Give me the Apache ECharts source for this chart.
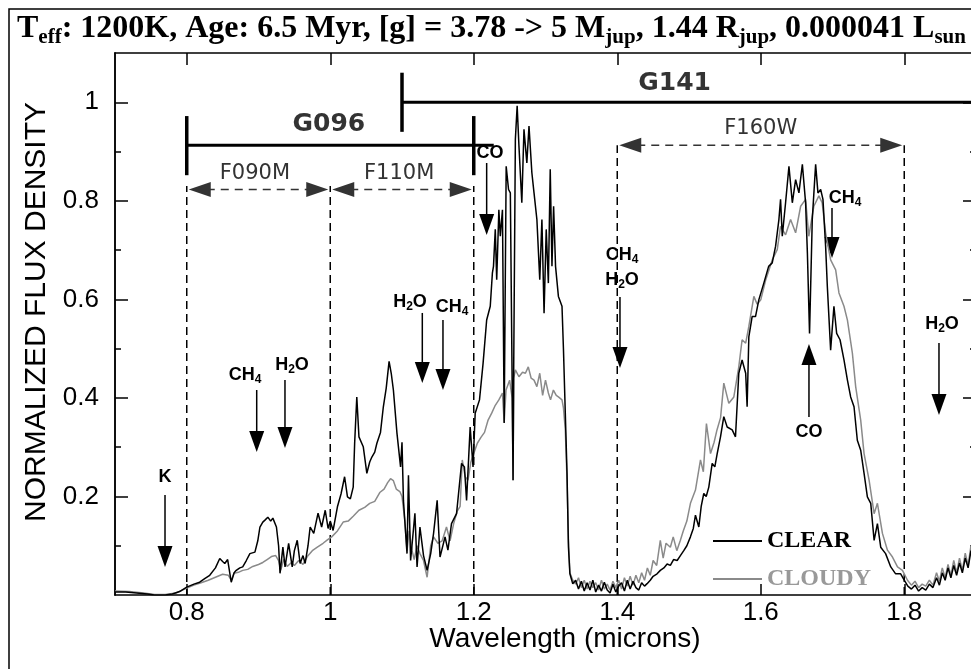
<!DOCTYPE html>
<html>
<head>
<meta charset="utf-8">
<title>Spectrum</title>
<script src="https://cdn.jsdelivr.net/npm/echarts@6/dist/echarts.min.js"></script>
<style>
html,body{margin:0;padding:0;background:#fff;overflow:hidden;}
#main{width:980px;height:669px;}
</style>
</head>
<body>
<div id="main"></div>
<script>
// CLEAR model spectrum (black)
var clearWave = [0.700,0.715,0.730,0.745,0.755,0.770,0.780,0.790,0.800,0.810,0.818,0.825,0.832,0.840,0.846,0.850,0.853,0.857,0.862,0.866,0.869,0.874,0.878,0.883,0.888,0.895,0.899,0.902,0.906,0.909,0.913,0.917,0.920,0.925,0.928,0.930,0.934,0.937,0.942,0.947,0.950,0.954,0.958,0.962,0.965,0.969,0.972,0.977,0.983,0.988,0.993,0.997,1.000,1.004,1.010,1.015,1.020,1.024,1.028,1.032,1.034,1.037,1.040,1.046,1.051,1.055,1.058,1.062,1.065,1.070,1.074,1.078,1.082,1.085,1.088,1.093,1.098,1.100,1.102,1.107,1.109,1.112,1.118,1.121,1.125,1.130,1.135,1.140,1.144,1.149,1.153,1.160,1.164,1.169,1.176,1.183,1.187,1.190,1.195,1.199,1.202,1.208,1.213,1.218,1.223,1.226,1.2275,1.230,1.232,1.235,1.237,1.240,1.2424,1.2452,1.2485,1.251,1.2535,1.2548,1.2557,1.258,1.2605,1.263,1.267,1.270,1.274,1.277,1.281,1.284,1.288,1.292,1.295,1.298,1.301,1.304,1.3066,1.309,1.3113,1.314,1.318,1.323,1.325,1.3276,1.330,1.332,1.334,1.338,1.342,1.346,1.350,1.354,1.358,1.362,1.366,1.370,1.374,1.378,1.382,1.386,1.390,1.394,1.398,1.402,1.406,1.410,1.414,1.418,1.422,1.426,1.430,1.434,1.438,1.4416,1.446,1.450,1.4555,1.460,1.465,1.4695,1.474,1.4785,1.4835,1.488,1.4927,1.497,1.502,1.506,1.509,1.5137,1.517,1.5206,1.524,1.5276,1.5323,1.536,1.5393,1.5439,1.5485,1.5532,1.5602,1.5648,1.5694,1.574,1.579,1.581,1.5834,1.588,1.5927,1.5973,1.6043,1.611,1.616,1.6207,1.6253,1.6276,1.630,1.6346,1.6393,1.644,1.6486,1.6532,1.658,1.6625,1.665,1.668,1.6718,1.6765,1.6797,1.6835,1.6867,1.6904,1.6928,1.6974,1.702,1.7058,1.7105,1.716,1.7208,1.7253,1.730,1.7346,1.7393,1.744,1.7486,1.7533,1.758,1.7626,1.7672,1.774,1.7812,1.788,1.795,1.800,1.805,1.810,1.815,1.820,1.825,1.830,1.835,1.840,1.845,1.849,1.853,1.857,1.861,1.865,1.869,1.873,1.877,1.881,1.885,1.889,1.893,1.897,1.900];
var clearFlux = [0.006,0.006,0.004,0.002,0.000,0.000,0.002,0.007,0.016,0.022,0.026,0.033,0.040,0.055,0.074,0.068,0.064,0.072,0.026,0.045,0.050,0.055,0.057,0.070,0.084,0.087,0.110,0.138,0.148,0.152,0.158,0.150,0.156,0.138,0.100,0.044,0.097,0.057,0.105,0.057,0.090,0.111,0.064,0.080,0.064,0.100,0.138,0.125,0.166,0.138,0.172,0.135,0.150,0.131,0.179,0.205,0.240,0.199,0.195,0.219,0.308,0.402,0.321,0.301,0.247,0.270,0.280,0.290,0.308,0.330,0.382,0.420,0.474,0.450,0.416,0.328,0.260,0.310,0.192,0.084,0.243,0.070,0.166,0.057,0.138,0.080,0.050,0.084,0.125,0.192,0.077,0.118,0.091,0.145,0.165,0.267,0.260,0.192,0.341,0.260,0.369,0.396,0.470,0.558,0.586,0.654,0.667,0.742,0.640,0.782,0.728,0.782,0.349,0.870,0.823,0.816,0.436,0.233,0.463,0.925,0.993,0.911,0.796,0.945,0.877,0.952,0.857,0.816,0.762,0.640,0.762,0.572,0.742,0.633,0.864,0.667,0.789,0.667,0.606,0.586,0.500,0.369,0.247,0.097,0.043,0.023,0.030,0.012,0.028,0.008,0.025,0.010,0.030,0.006,0.020,0.008,0.026,0.010,0.004,0.022,0.006,0.018,0.025,0.008,0.030,0.012,0.028,0.015,0.010,0.025,0.018,0.023,0.030,0.038,0.043,0.050,0.055,0.063,0.060,0.072,0.070,0.080,0.090,0.100,0.118,0.135,0.162,0.138,0.180,0.206,0.200,0.219,0.267,0.260,0.287,0.321,0.362,0.341,0.335,0.321,0.450,0.477,0.450,0.382,0.524,0.565,0.565,0.599,0.633,0.667,0.674,0.708,0.762,0.803,0.728,0.796,0.870,0.796,0.843,0.816,0.874,0.796,0.694,0.531,0.762,0.874,0.816,0.823,0.803,0.708,0.626,0.497,0.586,0.531,0.518,0.477,0.436,0.402,0.382,0.314,0.294,0.247,0.199,0.186,0.111,0.145,0.097,0.084,0.057,0.043,0.043,0.030,0.018,0.012,0.020,0.008,0.015,0.010,0.022,0.015,0.035,0.020,0.045,0.030,0.055,0.035,0.060,0.040,0.065,0.045,0.075,0.055,0.090,0.060,0.080];

// CLOUDY model spectrum (grey)
var cloudyWave = [0.700,0.720,0.740,0.755,0.770,0.785,0.800,0.810,0.820,0.830,0.840,0.850,0.858,0.862,0.866,0.872,0.878,0.885,0.892,0.900,0.906,0.912,0.918,0.924,0.928,0.931,0.935,0.940,0.946,0.950,0.956,0.962,0.968,0.975,0.982,0.990,0.996,1.002,1.010,1.018,1.025,1.032,1.040,1.048,1.055,1.062,1.069,1.075,1.080,1.084,1.088,1.092,1.097,1.100,1.104,1.107,1.110,1.114,1.117,1.121,1.125,1.130,1.135,1.140,1.144,1.150,1.156,1.162,1.167,1.172,1.177,1.181,1.184,1.188,1.192,1.196,1.200,1.205,1.210,1.215,1.220,1.225,1.230,1.235,1.240,1.2424,1.245,1.250,1.2535,1.2548,1.2557,1.258,1.263,1.268,1.272,1.276,1.280,1.284,1.288,1.292,1.296,1.300,1.304,1.307,1.311,1.315,1.318,1.323,1.325,1.3276,1.330,1.332,1.334,1.338,1.342,1.346,1.350,1.354,1.358,1.362,1.366,1.370,1.374,1.378,1.382,1.386,1.390,1.394,1.398,1.402,1.406,1.410,1.414,1.418,1.422,1.426,1.430,1.434,1.438,1.442,1.446,1.450,1.455,1.460,1.464,1.468,1.474,1.478,1.483,1.488,1.492,1.497,1.502,1.509,1.516,1.520,1.5243,1.530,1.535,1.539,1.544,1.5485,1.5555,1.5625,1.5694,1.574,1.579,1.5834,1.5904,1.595,1.600,1.607,1.616,1.623,1.6276,1.6346,1.6416,1.6486,1.6556,1.6625,1.667,1.674,1.681,1.6856,1.6904,1.6974,1.7044,1.709,1.716,1.7208,1.7277,1.7323,1.7393,1.744,1.751,1.758,1.7626,1.7696,1.7766,1.7836,1.7906,1.7975,1.8045,1.810,1.815,1.820,1.825,1.830,1.835,1.840,1.845,1.849,1.853,1.857,1.861,1.865,1.869,1.873,1.877,1.881,1.885,1.889,1.893,1.897,1.900];
var cloudyFlux = [0.008,0.007,0.004,0.001,0.001,0.004,0.014,0.020,0.025,0.030,0.036,0.042,0.040,0.030,0.044,0.046,0.050,0.052,0.058,0.062,0.066,0.072,0.078,0.080,0.070,0.050,0.072,0.058,0.066,0.060,0.070,0.062,0.078,0.090,0.097,0.105,0.112,0.118,0.130,0.148,0.150,0.160,0.172,0.178,0.186,0.190,0.208,0.215,0.228,0.236,0.232,0.215,0.210,0.200,0.150,0.090,0.130,0.090,0.072,0.100,0.084,0.070,0.036,0.100,0.118,0.105,0.110,0.138,0.110,0.145,0.170,0.180,0.274,0.240,0.233,0.270,0.287,0.308,0.320,0.330,0.355,0.369,0.385,0.396,0.410,0.350,0.416,0.436,0.400,0.233,0.440,0.457,0.443,0.452,0.450,0.463,0.440,0.436,0.423,0.450,0.405,0.436,0.410,0.396,0.416,0.405,0.402,0.396,0.380,0.335,0.233,0.111,0.045,0.030,0.022,0.035,0.015,0.030,0.012,0.028,0.015,0.025,0.010,0.030,0.012,0.022,0.010,0.028,0.015,0.030,0.012,0.035,0.018,0.038,0.020,0.040,0.025,0.045,0.030,0.055,0.040,0.070,0.060,0.111,0.075,0.105,0.097,0.118,0.090,0.111,0.130,0.150,0.186,0.213,0.274,0.250,0.348,0.287,0.310,0.335,0.360,0.430,0.389,0.402,0.463,0.518,0.511,0.545,0.606,0.590,0.599,0.640,0.680,0.701,0.748,0.731,0.762,0.735,0.789,0.803,0.728,0.789,0.810,0.796,0.735,0.680,0.660,0.613,0.586,0.558,0.491,0.423,0.355,0.287,0.233,0.165,0.186,0.125,0.091,0.077,0.057,0.050,0.030,0.020,0.028,0.015,0.022,0.018,0.030,0.020,0.045,0.028,0.055,0.035,0.062,0.040,0.070,0.045,0.075,0.050,0.085,0.060,0.100,0.065,0.085];

var xTicks = [0.8, 1.0, 1.2, 1.4, 1.6, 1.8];
var yMajor = [0.2, 0.4, 0.6, 0.8, 1.0];
var yMinor = [0.1, 0.3, 0.5, 0.7, 0.9];

// filter / grating annotations (data units)
var filterEdges = [[0.8, 0.83], [1.0, 0.83], [1.2, 0.83], [1.4, 0.913], [1.8, 0.913]];
var filters = [
  {name: 'F090M', x0: 0.8, x1: 1.0, y: 0.823, lx: 0.895, ly: 0.855},
  {name: 'F110M', x0: 1.0, x1: 1.2, y: 0.823, lx: 1.096, ly: 0.855},
  {name: 'F160W', x0: 1.4, x1: 1.8, y: 0.913, lx: 1.6, ly: 0.946}
];
var gratings = [
  {name: 'G096', x0: 0.8, x1: 1.2, y: 0.913, bars: [0.8, 1.2], top: 0.972, bot: 0.852, lx: 0.998, ly: 0.955},
  {name: 'G141', x0: 1.1, x1: 1.9, y: 1.0, bars: [1.1], top: 1.06, bot: 0.94, lx: 1.48, ly: 1.039}
];
// molecule labels: text, text pos, arrow x, arrow start, arrow tip
var features = [
  {t: '{m|K}', tx: 0.7697, ty: 0.2395, ax: 0.7697, y0: 0.203, y1: 0.057},
  {t: '{m|CH}{s|4}', tx: 0.8812, ty: 0.4465, ax: 0.8975, y0: 0.416, y1: 0.290},
  {t: '{m|H}{s|2}{m|O}', tx: 0.9467, ty: 0.4668, ax: 0.9369, y0: 0.4364, y1: 0.2984},
  {t: '{m|H}{s|2}{m|O}', tx: 1.1111, ty: 0.5947, ax: 1.1283, y0: 0.5724, y1: 0.4303},
  {t: '{m|CH}{s|4}', tx: 1.1697, ty: 0.5845, ax: 1.1571, y0: 0.5582, y1: 0.4161},
  {t: '{m|CO}', tx: 1.2226, ty: 0.897, ax: 1.218, y0: 0.8768, y1: 0.7307},
  {t: '{m|CH}{s|4}', tx: 1.4066, ty: 0.690, ax: null},
  {t: '{m|H}{s|2}{m|O}', tx: 1.4066, ty: 0.639, ax: 1.4038, y0: 0.6048, y1: 0.4607},
  {t: '{m|CH}{s|4}', tx: 1.7174, ty: 0.8058, ax: 1.6993, y0: 0.7855, y1: 0.684},
  {t: '{m|CO}', tx: 1.6672, ty: 0.3308, ax: 1.6672, y0: 0.3613, y1: 0.5094},
  {t: '{m|H}{s|2}{m|O}', tx: 1.8526, ty: 0.55, ax: 1.8484, y0: 0.5115, y1: 0.3653}
];

function pairs(w, f) {
  var out = [];
  for (var i = 0; i < w.length; i++) out.push([w[i], f[i]]);
  return out;
}

var sans = 'Liberation Sans';
var axisBase = {
  type: 'value', splitLine: {show: false},
  axisLine: {show: true, onZero: false, lineStyle: {color: '#000', width: 1.5}}
};
function axis(extra) { return Object.assign({}, axisBase, extra); }

var chart = echarts.init(document.getElementById('main'));
chart.setOption({
  animation: false,
  grid: {left: 115, top: 53, right: 4, bottom: 74},
  xAxis: [
    axis({min: 0.7, max: 1.9, position: 'bottom',
      axisTick: {inside: true, length: 11, customValues: xTicks, lineStyle: {color: '#000', width: 1.5}},
      axisLabel: {customValues: xTicks, color: '#000', fontFamily: sans, fontSize: 26, margin: 5}}),
    axis({min: 0.7, max: 1.9, position: 'top',
      axisTick: {inside: true, length: 12, customValues: xTicks, lineStyle: {color: '#000', width: 1.5}},
      axisLabel: {show: false}})
  ],
  yAxis: [
    axis({min: 0, max: 1.1, position: 'left',
      axisTick: {inside: true, length: 13, customValues: yMajor, lineStyle: {color: '#000', width: 1.5}},
      axisLabel: {customValues: yMajor, color: '#000', fontFamily: sans, fontSize: 26, margin: 16}}),
    axis({min: 0, max: 1.1, position: 'left',
      axisTick: {inside: true, length: 6, customValues: yMinor, lineStyle: {color: '#000', width: 1.5}},
      axisLabel: {show: false}}),
    axis({min: 0, max: 1.1, position: 'right',
      axisTick: {inside: true, length: 13, customValues: yMajor, lineStyle: {color: '#000', width: 1.5}},
      axisLabel: {show: false}}),
    axis({min: 0, max: 1.1, position: 'right',
      axisTick: {inside: true, length: 6, customValues: yMinor, lineStyle: {color: '#000', width: 1.5}},
      axisLabel: {show: false}})
  ],
  legend: {
    orient: 'vertical', left: 708, top: 524, itemWidth: 49, itemHeight: 2, itemGap: 14, icon: 'rect',
    textStyle: {fontFamily: 'Liberation Serif', fontWeight: 'bold', fontSize: 24},
    data: [{name: 'CLEAR', textStyle: {color: '#000'}}, {name: 'CLOUDY', textStyle: {color: '#999'}}]
  },
  series: [
    {name: 'CLOUDY', type: 'line', symbol: 'none', data: pairs(cloudyWave, cloudyFlux),
      lineStyle: {color: '#8a8a8a', width: 1.5}, itemStyle: {color: '#8a8a8a'}},
    {name: 'CLEAR', type: 'line', symbol: 'none', data: pairs(clearWave, clearFlux),
      lineStyle: {color: '#000', width: 1.5}, itemStyle: {color: '#000'}}
  ]
});

function px(x, y) { return chart.convertToPixel({seriesIndex: 0}, [x, y]); }

var g = [];
// outer frame
g.push({type: 'rect', silent: true, shape: {x: 9, y: 9, width: 1000, height: 700},
  style: {fill: null, stroke: '#000', lineWidth: 1.5}});
// title
g.push({type: 'text', left: 17, top: 10, silent: true,
  style: {
    text: '{m|T}{s|eff}{m|: 1200K, Age: 6.5 Myr, [g] = 3.78 -> 5 M}{s|jup}{m|, 1.44 R}{s|jup}{m|, 0.000041 L}{s|sun}',
    rich: {
      m: {fontFamily: 'Liberation Serif', fontWeight: 'bold', fontSize: 32, lineHeight: 34, fill: '#000'},
      s: {fontFamily: 'Liberation Serif', fontWeight: 'bold', fontSize: 21, lineHeight: 20, padding: [17, 0, 0, 0], fill: '#000'}
    }
  }});
// axis names
g.push({type: 'text', x: 37, y: 312, rotation: Math.PI / 2, silent: true,
  style: {text: 'NORMALIZED FLUX DENSITY', fontFamily: sans, fontSize: 30, fill: '#000', align: 'center', verticalAlign: 'middle'}});
g.push({type: 'text', x: 565, y: 639, silent: true,
  style: {text: 'Wavelength (microns)', fontFamily: sans, fontSize: 28, fill: '#000', align: 'center', verticalAlign: 'middle'}});

filterEdges.forEach(function (e) {
  var a = px(e[0], 0), b = px(e[0], e[1]);
  g.push({type: 'line', silent: true, shape: {x1: a[0], y1: a[1], x2: b[0], y2: b[1]},
    style: {stroke: '#000', lineWidth: 1.5, lineDash: [8, 5]}});
});

filters.forEach(function (f) {
  var a = px(f.x0, f.y), b = px(f.x1, f.y), l = px(f.lx, f.ly);
  var y = a[1], xa = a[0] + 2, xb = b[0] - 2;
  g.push({type: 'line', silent: true, shape: {x1: xa + 18, y1: y, x2: xb - 18, y2: y},
    style: {stroke: '#333', lineWidth: 1.5, lineDash: [8, 6]}});
  g.push({type: 'polygon', silent: true, shape: {points: [[xa, y], [xa + 22, y - 7.5], [xa + 22, y + 7.5]]}, style: {fill: '#333'}});
  g.push({type: 'polygon', silent: true, shape: {points: [[xb, y], [xb - 22, y - 7.5], [xb - 22, y + 7.5]]}, style: {fill: '#333'}});
  g.push({type: 'text', x: l[0], y: l[1], silent: true,
    style: {text: f.name, fontFamily: 'DejaVu Sans', fontSize: 21, fill: '#333', align: 'center', verticalAlign: 'middle'}});
});

gratings.forEach(function (r) {
  var a = px(r.x0, r.y), b = px(r.x1, r.y), l = px(r.lx, r.ly);
  g.push({type: 'line', silent: true, shape: {x1: a[0], y1: a[1], x2: b[0] + 20, y2: b[1]},
    style: {stroke: '#000', lineWidth: 3}});
  r.bars.forEach(function (bx) {
    var t = px(bx, r.top), u = px(bx, r.bot);
    g.push({type: 'line', silent: true, shape: {x1: t[0], y1: t[1], x2: u[0], y2: u[1]},
      style: {stroke: '#000', lineWidth: 3.5}});
  });
  g.push({type: 'text', x: l[0], y: l[1], silent: true,
    style: {text: r.name, fontFamily: 'DejaVu Sans', fontWeight: 'bold', fontSize: 25, fill: '#333', align: 'center', verticalAlign: 'middle'}});
});

features.forEach(function (f) {
  var p = px(f.tx, f.ty);
  g.push({type: 'text', x: p[0], y: p[1], silent: true,
    style: {text: f.t, align: 'center', verticalAlign: 'middle',
      rich: {
        m: {fontFamily: sans, fontWeight: 'bold', fontSize: 18, lineHeight: 20, fill: '#000'},
        s: {fontFamily: sans, fontWeight: 'bold', fontSize: 12, lineHeight: 12, padding: [9, 0, 0, 0], fill: '#000'}
      }}});
  if (f.ax === null) return;
  var s = px(f.ax, f.y0), e = px(f.ax, f.y1);
  var dir = e[1] > s[1] ? 1 : -1;
  var base = e[1] - dir * 21;
  g.push({type: 'line', silent: true, shape: {x1: s[0], y1: s[1], x2: e[0], y2: base + dir * 2},
    style: {stroke: '#000', lineWidth: 1.5}});
  g.push({type: 'polygon', silent: true, shape: {points: [[e[0], e[1]], [e[0] - 7.5, base], [e[0] + 7.5, base]]},
    style: {fill: '#000'}});
});

chart.setOption({graphic: g});
</script>
</body>
</html>
